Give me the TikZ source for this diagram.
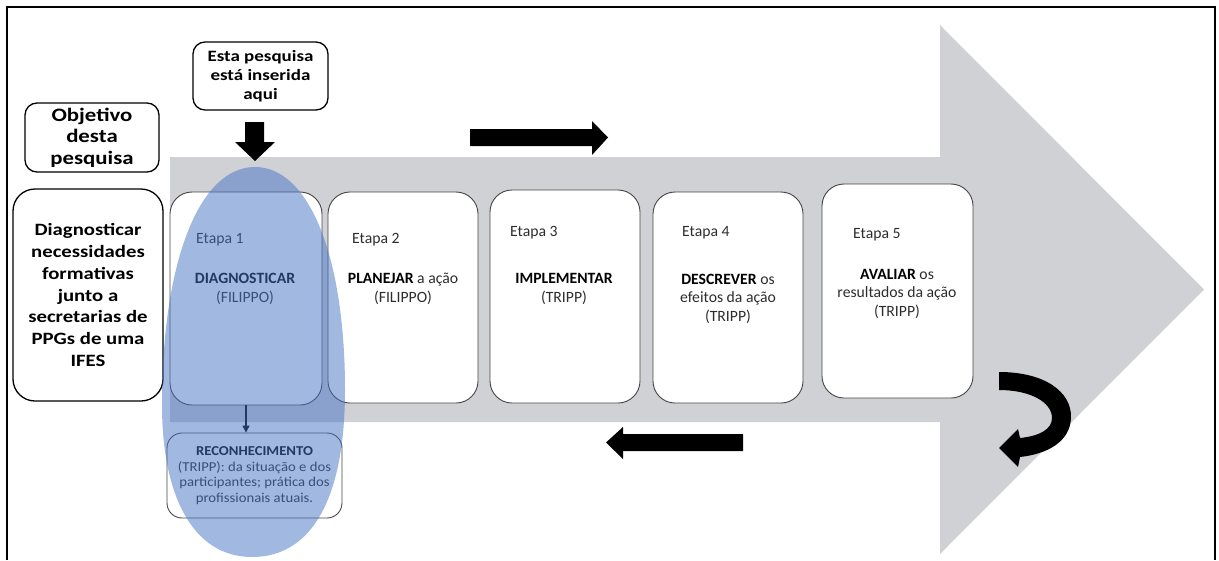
\documentclass[tikz,border=0pt]{standalone}
\usepackage{fontspec}
\setmainfont{Carlito}
\newfontfamily\headfont[FakeStretch=1.2]{Carlito}
\newfontfamily\notefont[FakeStretch=1.08]{Carlito}
\usetikzlibrary{arrows.meta}

\definecolor{bandgray}{RGB}{208,209,213}
\definecolor{boxline}{RGB}{70,70,70}
\definecolor{ink}{RGB}{45,45,45}
\definecolor{focusblue}{RGB}{68,114,196}

\tikzset{
  x=1pt, y=-1pt,
  blackbox/.style={draw=black, line width=1.3pt, rounded corners=12pt, fill=white,
    align=center, inner sep=0pt},
  stagebox/.style={draw=boxline, line width=0.9pt, rounded corners=22pt, fill=white,
    inner sep=0pt},
  stagelabel/.style={anchor=west, inner sep=0pt, text=ink,
    font=\fontsize{15.7}{18.5}\selectfont},
  stagetext/.style={align=center, inner sep=0pt, text=ink,
    font=\fontsize{15.7}{18.5}\selectfont},
  blockarrow/.style={fill=black},
}

\begin{document}
\begin{tikzpicture}
\useasboundingbox (0,0) rectangle (1219,560);

% outer frame (open at the bottom)
\draw[line width=1.2pt] (7,560) -- (7,7) -- (1215,7) -- (1215,560);

% large grey process arrow
\fill[bandgray] (170,157) -- (940,157) -- (940,25) -- (1204,289.5)
  -- (940,554) -- (940,422) -- (170,422) -- cycle;

% headline boxes
\node[blackbox, minimum width=134pt, minimum height=69pt,
      font=\headfont\bfseries\fontsize{19}{21.5}\selectfont] (obj) at (92,137.5)
  {Objetivo\\desta\\pesquisa};
\node[blackbox, minimum width=135pt, minimum height=68pt,
      font=\headfont\bfseries\fontsize{15.8}{19}\selectfont] (here) at (260.5,76)
  {Esta pesquisa\\está inserida\\aqui};
\node[blackbox, rounded corners=22pt, minimum width=150pt, minimum height=212pt,
      font=\headfont\bfseries\fontsize{17.3}{21.7}\selectfont] (goal) at (88,295)
  {Diagnosticar\\necessidades\\formativas\\junto a\\secretarias de\\PPGs de uma\\IFES};

% downward block arrow under the "here" box
\fill[blockarrow] (245,122) -- (264,122) -- (264,142) -- (275,142) -- (255,161)
  -- (235,142) -- (245,142) -- cycle;

% forward and backward block arrows
\fill[blockarrow] (470,129) -- (592,129) -- (592,121) -- (608,137.5) -- (592,155)
  -- (592,146) -- (470,146) -- cycle;
\fill[blockarrow] (743,434) -- (623,434) -- (623,427) -- (606,442.5) -- (623,459)
  -- (623,451) -- (743,451) -- cycle;

% curved return arrow
\fill[blockarrow] (999,372) .. controls (1045,372) and (1072,392) .. (1071,418)
  .. controls (1070,442) and (1047,454) .. (1020,457)
  -- (1018,467) -- (999,448) -- (1018,429) -- (1020,438)
  .. controls (1040,436) and (1052,429) .. (1052,418)
  .. controls (1052,402) and (1030,390) .. (999,390) -- cycle;

% stage boxes
\node[stagebox, minimum width=152pt, minimum height=213pt] (e1) at (246,298.5) {};
\node[stagebox, minimum width=150pt, minimum height=211pt] (e2) at (403,297.5) {};
\node[stagebox, minimum width=150pt, minimum height=213pt] (e3) at (565,296.5) {};
\node[stagebox, minimum width=150pt, minimum height=211pt] (e4) at (728,297.5) {};
\node[stagebox, minimum width=151pt, minimum height=214pt] (e5) at (897.5,291) {};

\node[stagelabel] (l1) at (196,240) {Etapa 1};
\node[stagelabel] (l2) at (352,240) {Etapa 2};
\node[stagelabel] (l3) at (510,233) {Etapa 3};
\node[stagelabel] (l4) at (682,233) {Etapa 4};
\node[stagelabel] (l5) at (853,235) {Etapa 5};

\node[stagetext] (t1) at (245,289) {\textbf{\color{black}DIAGNOSTICAR}\\(FILIPPO)};
\node[stagetext] (t2) at (403,289) {\textbf{\color{black}PLANEJAR} a ação\\(FILIPPO)};
\node[stagetext] (t3) at (564,289) {\textbf{\color{black}IMPLEMENTAR}\\(TRIPP)};
\node[stagetext] (t4) at (728,298.5) {\textbf{\color{black}DESCREVER} os\\efeitos da ação\\(TRIPP)};
\node[stagetext] (t5) at (897,293.5) {\textbf{\color{black}AVALIAR} os\\resultados da ação\\(TRIPP)};

% recognition box below stage 1
\node[stagebox, rounded corners=15pt, minimum width=175pt, minimum height=85pt,
      align=center, text=ink, font=\notefont\fontsize{13.6}{15.7}\selectfont] (recon) at (254.5,475.5)
  {\textbf{\color{black}RECONHECIMENTO}\\(TRIPP): da situação e dos\\participantes; prática dos\\profissionais atuais.};

\draw[black, line width=1.4pt, -{Triangle[length=7pt,width=7pt]}]
  (e1.south) -- (e1.south |- recon.north);

% highlight over stage 1
\fill[focusblue, fill opacity=0.5]
  (255,167) .. controls (309,167) and (345,256) .. (345,390)
  .. controls (345,498) and (312,557) .. (252,557)
  .. controls (193,557) and (162,496) .. (162,405)
  .. controls (162,262) and (199,167) .. (255,167) -- cycle;
\end{tikzpicture}
\end{document}
